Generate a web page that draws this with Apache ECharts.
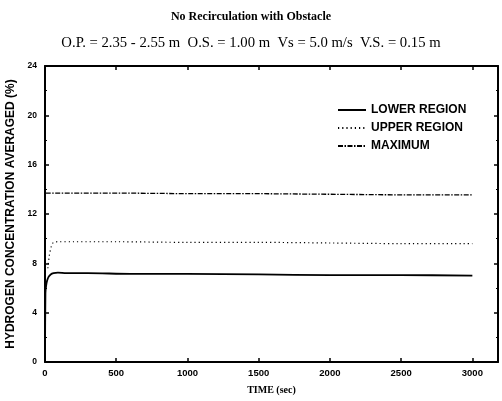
<!DOCTYPE html>
<html><head><meta charset="utf-8">
<script src="https://cdn.jsdelivr.net/npm/echarts@6/dist/echarts.min.js"></script>
<style>html,body{margin:0;padding:0;background:#fff}#c{width:502px;height:401px}</style>
</head><body><div id="c"></div>
<script>
var titleText = "No Recirculation with Obstacle";
var subtitleText = "O.P. = 2.35 - 2.55 m  O.S. = 1.00 m  Vs = 5.0 m/s  V.S. = 0.15 m";
var xTicks = [0, 500, 1000, 1500, 2000, 2500, 3000];
var yTicks = [0, 4, 8, 12, 16, 20, 24];
var timeLower = [0, 3, 8, 15, 25, 40, 60, 90, 150, 300, 600, 1000, 1500, 2000, 2500, 3000];
var lowerRegion = [0, 5.6, 6.2, 6.6, 6.9, 7.1, 7.2, 7.25, 7.2, 7.2, 7.15, 7.15, 7.1, 7.05, 7.05, 7.0];
var timeUpper = [20, 30, 45, 60, 90, 200, 500, 1000, 1500, 2000, 2500, 3000];
var upperRegion = [7.6, 8.6, 9.4, 9.7, 9.75, 9.75, 9.75, 9.7, 9.7, 9.65, 9.6, 9.6];
var timeMax = [5, 20, 100, 500, 1000, 1500, 2000, 2500, 3000];
var maximum = [13.7, 13.7, 13.7, 13.7, 13.65, 13.65, 13.6, 13.55, 13.55];

function pairs(t, v){ return t.map(function(x,i){return [x, v[i]];}); }
var serif = "'Liberation Serif', 'DejaVu Serif', serif";
var sans = "'Liberation Sans', 'DejaVu Sans', sans-serif";
var chart = echarts.init(document.getElementById('c'));
function axisCommon(minor){ return {
  axisLine:{show:true, onZero:false, lineStyle:{color:'#000', width:2}},
  axisTick:{show:true, inside:true, length:4, lineStyle:{color:'#000', width:1.5}},
  minorTick:{show:!!minor, splitNumber:2, length:2, lineStyle:{color:'#000', width:1}},
  splitLine:{show:false}, minorSplitLine:{show:false}
};}
chart.setOption({
  animation:false,
  backgroundColor:'#fff',
  title:[
    {text:titleText, left:'center', top:6, textStyle:{fontFamily:serif, fontSize:12, fontWeight:'bold', color:'#000'}},
    {text:subtitleText, left:'center', top:31, textStyle:{fontFamily:serif, fontSize:14.7, fontWeight:'normal', color:'#000'}}
  ],
  grid:{left:45, right:4, top:66, bottom:39, outerBoundsMode:'none', containLabel:false},
  legend:{
    orient:'vertical', left:332, top:99, itemWidth:28, itemHeight:12, itemGap:6,
    itemStyle:{opacity:0},
    textStyle:{fontFamily:sans, fontSize:12, fontWeight:'bold', color:'#000'},
    data:['LOWER REGION','UPPER REGION','MAXIMUM']
  },
  xAxis:[
    Object.assign({type:'value', min:0, max:3180, interval:500,
      name:'TIME (sec)', nameLocation:'middle', nameGap:23,
      nameTextStyle:{fontFamily:serif, fontSize:10, fontWeight:'bold', color:'#000'},
      axisLabel:{fontFamily:sans, fontSize:9.5, fontWeight:'bold', color:'#000', margin:6, showMaxLabel:false,
        formatter:function(v){return xTicks.indexOf(v)>=0? String(v):'';}}}, axisCommon(false)),
    Object.assign({type:'value', min:0, max:3180, interval:500, position:'top', axisLabel:{show:false}}, axisCommon(false))
  ],
  yAxis:[
    Object.assign({type:'value', min:0, max:24, interval:4,
      name:'HYDROGEN CONCENTRATION AVERAGED (%)', nameLocation:'middle', nameGap:27, nameRotate:90,
      nameTextStyle:{fontFamily:sans, fontSize:12, fontWeight:'bold', color:'#000'},
      axisLabel:{fontFamily:sans, fontSize:8.5, fontWeight:'bold', color:'#000', margin:8,
        formatter:function(v){return yTicks.indexOf(v)>=0? String(v):'';}}}, axisCommon(true)),
    Object.assign({type:'value', min:0, max:24, interval:4, position:'right', axisLabel:{show:false}}, axisCommon(true))
  ],
  series:[
    {name:'LOWER REGION', type:'line', data:pairs(timeLower, lowerRegion), symbol:'none', smooth:0.3,
      lineStyle:{color:'#000', width:1.8, type:'solid'}, itemStyle:{color:'#000'}},
    {name:'UPPER REGION', type:'line', data:pairs(timeUpper, upperRegion), symbol:'none', smooth:0.3,
      lineStyle:{color:'#000', width:1.2, type:[1.2,3]}, itemStyle:{color:'#000'}},
    {name:'MAXIMUM', type:'line', data:pairs(timeMax, maximum), symbol:'none',
      lineStyle:{color:'#000', width:1.3, type:[5,1.5,1.5,1.5]}, itemStyle:{color:'#000'}}
  ]
});
</script></body></html>
